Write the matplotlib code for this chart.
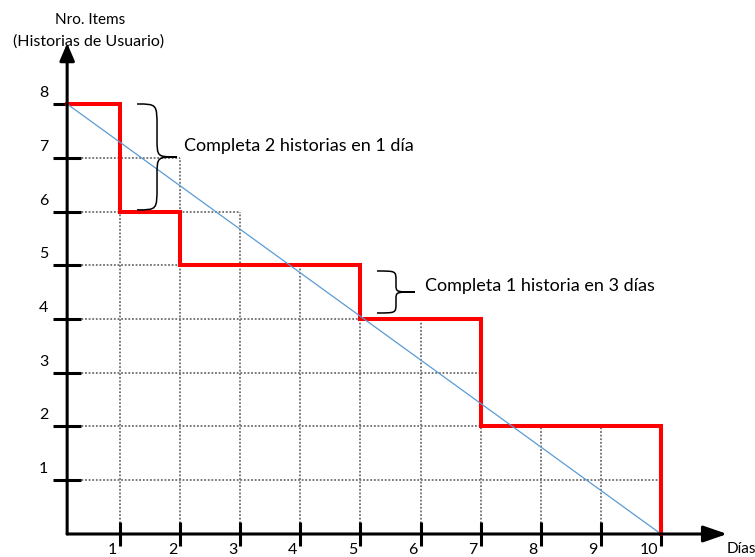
import matplotlib.pyplot as plt
from matplotlib.path import Path
from matplotlib.patches import PathPatch

plt.rcParams['font.family'] = ['Lato', 'DejaVu Sans']

# data
days = [1, 2, 3, 4, 5, 6, 7, 8, 9, 10]
items = [1, 2, 3, 4, 5, 6, 7, 8]
step_days = [0, 1, 2, 5, 7, 10]
step_items = [8, 6, 5, 4, 2, 0]
ideal_days = [0, 10]
ideal_items = [8, 0]
cell_heights = [8, 7, 6, 5, 5, 4, 4, 2, 2, 2]

note1 = "Completa 2 historias en 1 día"
note2 = "Completa 1 historia en 3 días"

axis_x = 0.12  # y axis sits a bit right of day 0

fig = plt.figure(figsize=(7.55, 5.57), dpi=100)
ax = fig.add_axes([0, 0, 1, 1])
ax.set_xlim(-0.997, 11.564)
ax.set_ylim(-0.428, 9.935)
ax.set_facecolor('white')


def brace(ax, x0, x1, y0, y1, lw=1.1):
    # right facing curly brace
    xm = (x0 + x1) / 2
    yc = (y0 + y1) / 2
    h = (y1 - y0) / 2
    verts = [(x0, y1), (xm, y1), (xm, y1), (xm, y1 - 0.45 * h),
             (xm, yc + 0.35 * h),
             (xm, yc), (xm, yc), (x1, yc),
             (xm, yc), (xm, yc), (xm, yc - 0.35 * h),
             (xm, y0 + 0.45 * h),
             (xm, y0), (xm, y0), (x0, y0)]
    codes = [Path.MOVETO, Path.CURVE4, Path.CURVE4, Path.CURVE4,
             Path.LINETO,
             Path.CURVE4, Path.CURVE4, Path.CURVE4,
             Path.CURVE4, Path.CURVE4, Path.CURVE4,
             Path.LINETO,
             Path.CURVE4, Path.CURVE4, Path.CURVE4]
    ax.add_patch(PathPatch(Path(verts, codes), fill=False, color='black', lw=lw, zorder=4))


# dotted grid cells under the burndown
for k in items:
    right = max(d for d, h in zip(days, cell_heights) if h >= k)
    ax.hlines(k, axis_x, right, colors='#6e6e6e', linestyles=(0, (1, 1)), lw=1.3, zorder=1)
for i, d in enumerate(days):
    nxt = cell_heights[i + 1] if i + 1 < len(cell_heights) else 0
    ax.vlines(d, 0, max(cell_heights[i], nxt), colors='#6e6e6e', linestyles=(0, (1, 1)), lw=1.3, zorder=1)

# real progress (red) and ideal line (blue)
sx = [axis_x] + step_days[1:]
ax.step(sx, step_items, where='post', color='#FF0000', lw=2.9, solid_joinstyle='miter', zorder=3)
ax.plot([axis_x] + ideal_days[1:], ideal_items, color='#5B9BD5', lw=0.9, zorder=3)

# axes with arrows
ax.annotate('', xy=(11.1, 0), xytext=(axis_x, 0),
            arrowprops=dict(arrowstyle='-|>,head_length=0.72,head_width=0.25', lw=2.2,
                            color='black', mutation_scale=20, shrinkA=0, shrinkB=0), zorder=5)
ax.annotate('', xy=(axis_x, 9.13), xytext=(axis_x, 0),
            arrowprops=dict(arrowstyle='-|>,head_length=0.7,head_width=0.3', lw=2.2,
                            color='black', mutation_scale=15, shrinkA=0, shrinkB=0), zorder=5)

for s in ax.spines.values():
    s.set_visible(False)
ax.spines['left'].set_position(('data', axis_x))
ax.spines['bottom'].set_position(('data', 0))
ax.set_xticks(days)
ax.set_yticks(items)
ax.tick_params(axis='x', direction='inout', length=17, width=2.2, labelbottom=False, top=False)
ax.tick_params(axis='y', direction='inout', length=20, width=2.2, labelleft=False, right=False)

for d in days:
    ax.annotate(str(d), (d, 0), xytext=(-3, -9), textcoords='offset pixels',
                ha='right', va='top', fontsize=11.5)
for k in items:
    ax.annotate(str(k), (axis_x, k), xytext=(-19, 11), textcoords='offset pixels',
                ha='right', va='center', fontsize=11.5)

# titles
ax.annotate('Nro. Items', (90, 557 - 20), xycoords='figure pixels', ha='center', va='center', fontsize=11)
ax.annotate('(Historias de Usuario)', (89, 557 - 42), xycoords='figure pixels', ha='center', va='center', fontsize=11.5)
ax.annotate('Días', (727, 557 - 549), xycoords='figure pixels', ha='left', va='center', fontsize=11)

# braces and notes
brace(ax, 1.283, 1.948, 6.03, 8.0)
brace(ax, 5.275, 5.907, 4.112, 4.893)
ax.text(2.066, 7.12, note1, ha='left', va='baseline', fontsize=13)
ax.text(6.075, 4.53, note2, ha='left', va='baseline', fontsize=13)

fig.savefig('out.png', dpi=100)
